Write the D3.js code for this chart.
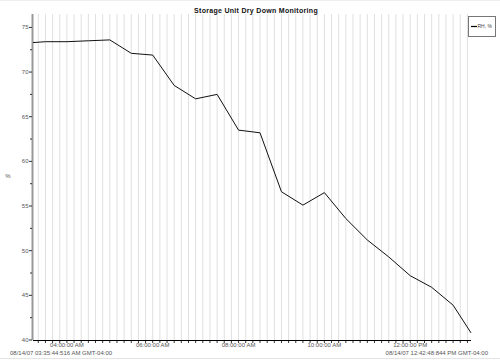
<!DOCTYPE html>
<html><head><meta charset="utf-8">
<script src="https://cdn.jsdelivr.net/npm/d3@7"></script>
<style>
html,body{margin:0;padding:0;background:#fff;}
svg{display:block;font-family:"Liberation Sans",Arial,sans-serif;}
</style></head>
<body>
<svg id="chart" width="500" height="360"></svg>
<script>
const chartTitle = "Storage Unit Dry Down Monitoring";
const seriesName = "RH, %";
const yAxisLabel = "%";
const startLabel = "08/14/07 03:35:44:516 AM GMT-04:00";
const endLabel = "08/14/07 12:42:48:844 PM GMT-04:00";
const times = ["03:12:36","03:30:00","04:00:00","04:30:00","05:00:00","05:30:00","06:00:00","06:30:00","07:00:00","07:30:00","08:00:00","08:30:00","09:00:00","09:30:00","10:00:00","10:30:00","11:00:00","11:30:00","12:00:00","12:30:00","13:00:00","13:25:00"];
const rhValues = [73.3,73.4,73.4,73.5,73.6,72.1,71.9,68.5,67.0,67.5,63.5,63.2,56.6,55.1,56.5,53.6,51.2,49.3,47.2,45.9,43.9,40.8];
const yMajorTicks = [40,45,50,55,60,65,70,75];
const yMinorTicks = [42.5,47.5,52.5,57.5,62.5,67.5,72.5];
const xLabelTimes = ["04:00:00","06:00:00","08:00:00","10:00:00","12:00:00"];

const parse = d3.timeParse("%Y-%m-%d %H:%M:%S");
const day = "2007-08-14 ";
const data = times.map((t,i)=>({t:parse(day+t), v:rhValues[i]}));

const svg = d3.select("#chart");
const L=33, R=471, T=14, B=340;
const x = d3.scaleTime().domain(d3.extent(data,d=>d.t)).range([L,R]);
const y = d3.scaleLinear().domain([40,76.5]).range([B,T]);

// outer faint frame lines
svg.append("line").attr("x1",0).attr("x2",500).attr("y1",358.5).attr("y2",358.5).attr("stroke","#e4e4e4");
svg.append("line").attr("x1",0).attr("x2",500).attr("y1",0.5).attr("y2",0.5).attr("stroke","#eeeeee");

// vertical grid every 10 minutes
const gridTimes = d3.timeMinute.every(10).range(x.domain()[0], x.domain()[1]);
svg.append("g").selectAll("line").data(gridTimes).join("line")
  .attr("x1",d=>x(d)).attr("x2",d=>x(d)).attr("y1",T).attr("y2",B)
  .attr("stroke","#e0e0e0").attr("stroke-width",1);

// y axis
const yAxis = svg.append("g");
yAxis.append("line").attr("x1",L-0.5).attr("x2",L-0.5).attr("y1",T).attr("y2",B)
  .attr("stroke","#999").attr("stroke-width",2);
yAxis.selectAll(".maj").data(yMajorTicks).join("line")
  .attr("x1",L-4).attr("x2",L-1).attr("y1",d=>y(d)).attr("y2",d=>y(d))
  .attr("stroke","#333").attr("stroke-width",1);
yAxis.selectAll(".min").data(yMinorTicks).join("line")
  .attr("x1",L-3).attr("x2",L-1).attr("y1",d=>y(d)).attr("y2",d=>y(d))
  .attr("stroke","#333").attr("stroke-width",1);
yAxis.selectAll("text").data(yMajorTicks).join("text")
  .attr("x",L-4.5).attr("y",d=>y(d)).attr("dy","0.35em")
  .attr("text-anchor","end").attr("font-size",6).attr("fill","#555").text(d=>d);
svg.append("text").attr("x",8).attr("y",178).attr("text-anchor","middle")
  .attr("font-size",6).attr("fill","#555").text(yAxisLabel);

// x axis
const xAxis = svg.append("g");
xAxis.append("line").attr("x1",L).attr("x2",R).attr("y1",B+0.5).attr("y2",B+0.5)
  .attr("stroke","#000").attr("stroke-width",1);
xAxis.selectAll(".tk").data(gridTimes).join("line")
  .attr("x1",d=>x(d)).attr("x2",d=>x(d)).attr("y1",B).attr("y2",B+3)
  .attr("stroke","#000").attr("stroke-width",0.8);
const fmt = d3.timeFormat("%I:%M:%S %p");
xAxis.selectAll("text").data(xLabelTimes.map(t=>parse(day+t))).join("text")
  .attr("x",d=>x(d)).attr("y",347).attr("text-anchor","middle")
  .attr("font-size",6).attr("fill","#555").text(d=>fmt(d));
svg.append("text").attr("x",10).attr("y",354.5).attr("font-size",6).attr("fill","#555").text(startLabel);
svg.append("text").attr("x",488).attr("y",354.5).attr("text-anchor","end").attr("font-size",6).attr("fill","#555").text(endLabel);

// line
svg.append("path").datum(data)
  .attr("d", d3.line().x(d=>x(d.t)).y(d=>y(d.v)))
  .attr("fill","none").attr("stroke","#111").attr("stroke-width",1);

// title
svg.append("text").attr("x",256).attr("y",12.5).attr("text-anchor","middle")
  .attr("font-size",7).attr("font-weight","bold").attr("letter-spacing",0.3).attr("fill","#111").text(chartTitle);

// legend
const lg = svg.append("g");
lg.append("rect").attr("x",468.5).attr("y",16.5).attr("width",27).attr("height",20)
  .attr("fill","#fff").attr("stroke","#777").attr("stroke-width",1);
lg.append("line").attr("x1",471).attr("x2",477).attr("y1",26.5).attr("y2",26.5).attr("stroke","#000").attr("stroke-width",1.2);
lg.append("text").attr("x",477.5).attr("y",26.5).attr("dy","0.35em").attr("font-size",5).attr("fill","#444").text(seriesName);
</script>
</body></html>
